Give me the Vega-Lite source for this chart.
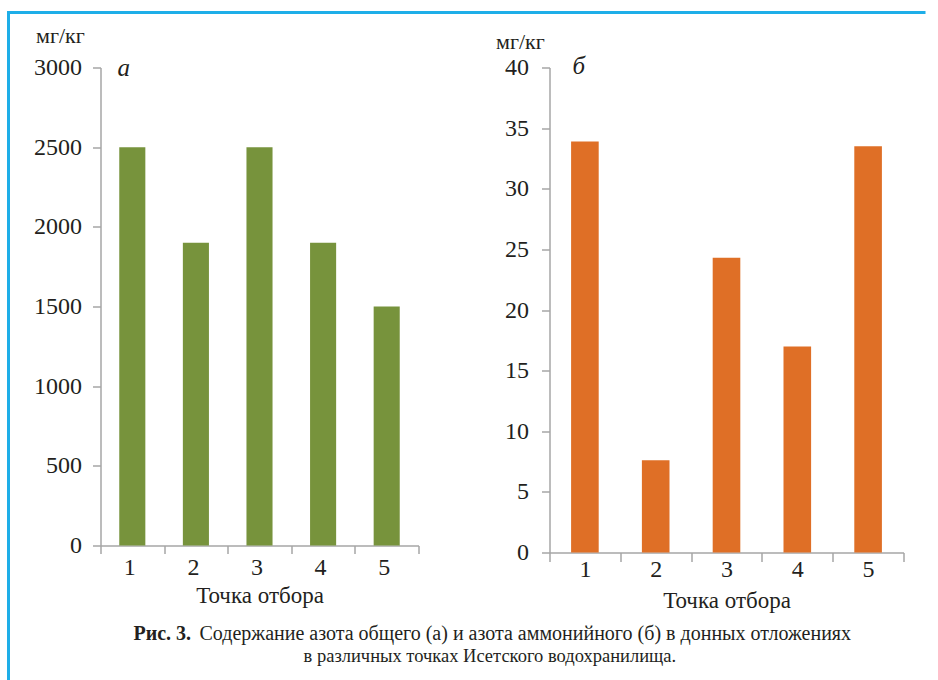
{
  "$schema": "https://vega.github.io/schema/vega-lite/v6.json",
  "padding": {"left": 6.5, "top": 10.5, "right": 0, "bottom": 0},
  "background": "white",
  "config": {
    "font": "Liberation Serif",
    "view": {"stroke": null},
    "axis": {
      "labelFont": "Liberation Serif",
      "titleFont": "Liberation Serif",
      "labelColor": "#231f20",
      "titleColor": "#231f20",
      "domainColor": "#a6a6a6",
      "tickColor": "#a6a6a6",
      "domainWidth": 1.5,
      "tickWidth": 1.5,
      "grid": false,
      "labelFontSize": 24,
      "titleFontSize": 23,
      "titleFontWeight": "normal"
    },
    "legend": {
      "strokeWidth": 3,
      "strokeDash": [917, 1592, 800]
    },
    "title": {"font": "Liberation Serif", "color": "#231f20"}
  },
  "datasets": {
    "total": [
      {"point": "1", "value": 2500},
      {"point": "2", "value": 1900},
      {"point": "3", "value": 2500},
      {"point": "4", "value": 1900},
      {"point": "5", "value": 1500}
    ],
    "ammonium": [
      {"point": "1", "value": 33.9},
      {"point": "2", "value": 7.6},
      {"point": "3", "value": 24.3},
      {"point": "4", "value": 17.0},
      {"point": "5", "value": 33.5}
    ]
  },
  "vconcat": [
    {
      "title": {
        "text": "в различных точках Исетского водохранилища.",
        "orient": "bottom",
        "anchor": "middle",
        "frame": "bounds",
        "fontSize": 18.5,
        "fontWeight": "normal",
        "offset": 3,
        "dx": 21
      },
      "vconcat": [
        {
          "title": {
            "text": "Содержание азота общего (а) и азота аммонийного (б) в донных отложениях",
            "orient": "bottom",
            "anchor": "start",
            "frame": "bounds",
            "fontSize": 20,
            "fontWeight": "normal",
            "offset": -20,
            "dx": 166
          },
          "vconcat": [
            {
              "title": {
                "text": "Рис. 3.",
                "orient": "bottom",
                "anchor": "start",
                "frame": "bounds",
                "fontSize": 20,
                "fontWeight": "bold",
                "dx": 100,
                "offset": 11
              },
              "bounds": "flush",
              "spacing": 131,
              "hconcat": [
                {
                  "width": 318,
                  "height": 478,
                  "layer": [
                    {
                      "data": {"name": "total"},
                      "mark": {"type": "bar", "width": {"band": 0.41}},
                      "encoding": {
                        "x": {
                          "field": "point",
                          "type": "ordinal",
                          "scale": {"paddingInner": 0, "paddingOuter": 0},
                          "axis": {
                            "title": "Точка отбора",
                            "labelAngle": 0,
                            "tickBand": "extent",
                            "tickSize": 8,
                            "labelPadding": 2,
                            "titlePadding": 5,
                            "labelOffset": -3
                          }
                        },
                        "y": {
                          "field": "value",
                          "type": "quantitative",
                          "scale": {"domain": [0, 3000]},
                          "axis": {
                            "values": [0, 500, 1000, 1500, 2000, 2500, 3000],
                            "format": "d",
                            "title": "мг/кг",
                            "titleAngle": 0,
                            "titleAlign": "left",
                            "titleBaseline": "alphabetic",
                            "titleX": -65,
                            "titleY": -25,
                            "titleFontSize": 22,
                            "tickSize": 8,
                            "labelPadding": 11
                          }
                        },
                        "color": {
                          "datum": 0,
                          "type": "quantitative",
                          "scale": {"domain": [0, 1], "range": ["#77933c", "#df6f26"]},
                          "legend": {
                            "orient": "none",
                            "legendX": -92,
                            "legendY": -55,
                            "direction": "horizontal",
                            "title": null,
                            "padding": 0,
                            "strokeColor": "#1eaee8",
                            "gradientLength": 928,
                            "gradientThickness": 670,
                            "gradientOpacity": 0,
                            "gradientStrokeWidth": 0,
                            "labelOpacity": 0,
                            "labelExpr": "''",
                            "labelFontSize": 1,
                            "labelOffset": 0,
                            "tickCount": 1
                          }
                        }
                      }
                    },
                    {
                      "data": {"values": [{"label": "а", "point": "1", "value": 3000}]},
                      "mark": {"type": "text", "fontStyle": "italic", "fontSize": 25, "align": "left", "baseline": "alphabetic", "dx": 17, "dy": 8, "color": "#231f20"},
                      "encoding": {
                        "x": {"field": "point", "type": "ordinal", "bandPosition": 0},
                        "y": {"field": "value", "type": "quantitative"},
                        "text": {"field": "label"}
                      }
                    }
                  ]
                },
                {
                  "width": 354,
                  "height": 485,
                  "layer": [
                    {
                      "data": {"name": "ammonium"},
                      "mark": {"type": "bar", "width": {"band": 0.39}},
                      "encoding": {
                        "x": {
                          "field": "point",
                          "type": "ordinal",
                          "scale": {"paddingInner": 0, "paddingOuter": 0},
                          "axis": {
                            "title": "Точка отбора",
                            "labelAngle": 0,
                            "tickBand": "extent",
                            "tickSize": 9,
                            "labelPadding": -4,
                            "titlePadding": 8
                          }
                        },
                        "y": {
                          "field": "value",
                          "type": "quantitative",
                          "scale": {"domain": [0, 40]},
                          "axis": {
                            "values": [0, 5, 10, 15, 20, 25, 30, 35, 40],
                            "title": "мг/кг",
                            "titleAngle": 0,
                            "titleAlign": "left",
                            "titleBaseline": "alphabetic",
                            "titleX": -54,
                            "titleY": -19,
                            "titleFontSize": 22,
                            "tickSize": 8,
                            "labelPadding": 13
                          }
                        },
                        "color": {"datum": 1, "type": "quantitative"}
                      }
                    },
                    {
                      "data": {"values": [{"label": "б", "point": "1", "value": 40}]},
                      "mark": {"type": "text", "fontStyle": "italic", "fontSize": 25, "align": "left", "baseline": "alphabetic", "dx": 23, "dy": 6, "color": "#231f20"},
                      "encoding": {
                        "x": {"field": "point", "type": "ordinal", "bandPosition": 0},
                        "y": {"field": "value", "type": "quantitative"},
                        "text": {"field": "label"}
                      }
                    }
                  ]
                }
              ]
            }
          ]
        }
      ]
    }
  ]
}
